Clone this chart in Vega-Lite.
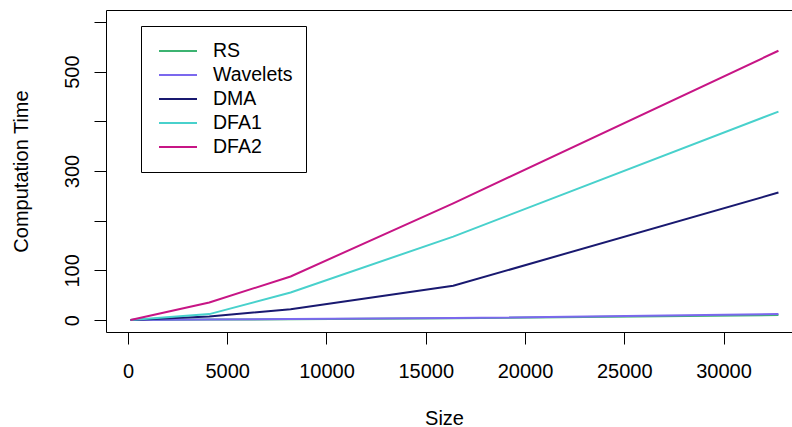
{
  "$schema": "https://vega.github.io/schema/vega-lite/v6.json",
  "autosize": {"type": "none"},
  "width": 687,
  "height": 322,
  "padding": {"left": 106, "top": 10, "right": 0, "bottom": 95},
  "background": "white",
  "config": {
    "font": "Liberation Sans",
    "view": {"stroke": "black", "strokeWidth": 1}
  },
  "data": {
    "values": [
      {"size": 128, "method": "RS", "time": 0},
      {"size": 4096, "method": "RS", "time": 1},
      {"size": 8192, "method": "RS", "time": 1.5},
      {"size": 16384, "method": "RS", "time": 3.5},
      {"size": 32768, "method": "RS", "time": 10},
      {"size": 128, "method": "Wavelets", "time": 0.3},
      {"size": 4096, "method": "Wavelets", "time": 1.2},
      {"size": 8192, "method": "Wavelets", "time": 2},
      {"size": 16384, "method": "Wavelets", "time": 4},
      {"size": 32768, "method": "Wavelets", "time": 12},
      {"size": 128, "method": "DMA", "time": 0},
      {"size": 4096, "method": "DMA", "time": 7},
      {"size": 8192, "method": "DMA", "time": 22},
      {"size": 16384, "method": "DMA", "time": 69},
      {"size": 32768, "method": "DMA", "time": 256.6},
      {"size": 128, "method": "DFA1", "time": 0},
      {"size": 4096, "method": "DFA1", "time": 12},
      {"size": 8192, "method": "DFA1", "time": 55.5},
      {"size": 16384, "method": "DFA1", "time": 168},
      {"size": 32768, "method": "DFA1", "time": 419.6},
      {"size": 128, "method": "DFA2", "time": 0},
      {"size": 4096, "method": "DFA2", "time": 35.4},
      {"size": 8192, "method": "DFA2", "time": 87.7},
      {"size": 16384, "method": "DFA2", "time": 235},
      {"size": 32768, "method": "DFA2", "time": 542}
    ]
  },
  "mark": {"type": "line", "strokeWidth": 2, "clip": true},
  "encoding": {
    "x": {
      "field": "size",
      "type": "quantitative",
      "scale": {"domain": [-1108, 33501], "nice": false, "zero": false},
      "axis": {
        "title": "Size",
        "titleFontSize": 20,
        "titleFontWeight": "normal",
        "titleColor": "black",
        "titleAnchor": "start",
        "titleAlign": "center",
        "titleX": 338,
        "titleY": 86,
        "titleBaseline": "middle",
        "values": [0, 5000, 10000, 15000, 20000, 25000, 30000],
        "format": "d",
        "domain": false,
        "grid": false,
        "tickSize": 12,
        "tickColor": "black",
        "tickWidth": 1,
        "labelFontSize": 20,
        "labelColor": "black",
        "labelPadding": 17,
        "labelFlush": false,
        "labelOverlap": false
      }
    },
    "y": {
      "field": "time",
      "type": "quantitative",
      "scale": {"domain": [-24, 624], "nice": false, "zero": false},
      "axis": {
        "title": "Computation Time",
        "titleFontSize": 20,
        "titleFontWeight": "normal",
        "titleColor": "black",
        "titlePadding": 31,
        "values": [0, 100, 200, 300, 400, 500, 600],
        "labelExpr": "datum.value == 200 || datum.value == 400 || datum.value == 600 ? '' : datum.label",
        "domain": false,
        "grid": false,
        "tickSize": 12,
        "tickColor": "black",
        "tickWidth": 1,
        "labelAngle": -90,
        "labelAlign": "center",
        "labelBaseline": "bottom",
        "labelFontSize": 20,
        "labelColor": "black",
        "labelPadding": 12,
        "labelFlush": false,
        "labelOverlap": false
      }
    },
    "color": {
      "field": "method",
      "type": "nominal",
      "sort": ["RS", "Wavelets", "DMA", "DFA1", "DFA2"],
      "scale": {
        "domain": ["RS", "Wavelets", "DMA", "DFA1", "DFA2"],
        "range": ["#3CB371", "#7B68EE", "#191970", "#48D1CC", "#C71585"]
      },
      "legend": {
        "title": null,
        "orient": "none",
        "legendX": 35,
        "legendY": 16,
        "direction": "vertical",
        "symbolType": "stroke",
        "symbolSize": 1444,
        "symbolStrokeWidth": 2,
        "symbolOffset": 4,
        "clipHeight": 24,
        "labelFontSize": 19.5,
        "labelColor": "black",
        "labelOffset": 15,
        "rowPadding": 0,
        "padding": 13,
        "strokeColor": "black",
        "fillColor": "white"
      }
    }
  }
}
